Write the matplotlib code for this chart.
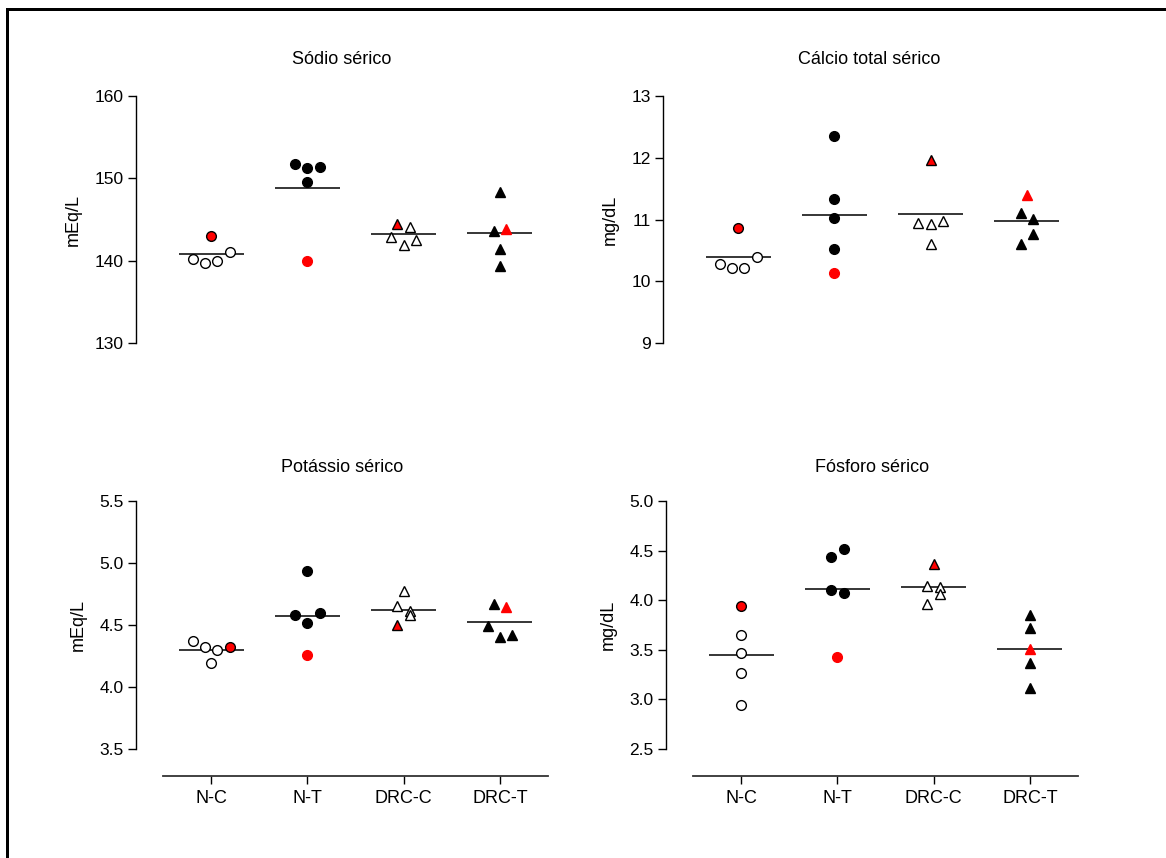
import numpy as np
import matplotlib
matplotlib.use('Agg')
import matplotlib.pyplot as plt
from matplotlib.lines import Line2D

plt.rcParams['font.family'] = ['Liberation Sans', 'DejaVu Sans']

# ---------------- data ----------------
groups = ['N-C', 'N-T', 'DRC-C', 'DRC-T']

sodio_nc = [140.2, 139.7, 140.0, 141.0, 143.0]
sodio_nt = [151.8, 151.2, 151.4, 149.5, 140.0]
sodio_drcc = [142.9, 141.9, 142.5, 144.5, 144.1]
sodio_drct = [148.3, 143.65, 143.9, 141.4, 139.3]
sodio_red = [4, 4, 3, 2]

calcio_nc = [10.28, 10.21, 10.22, 10.40, 10.86]
calcio_nt = [12.36, 11.34, 11.03, 10.53, 10.13]
calcio_drcc = [10.95, 10.93, 10.97, 10.61, 11.96]
calcio_drct = [11.11, 11.01, 10.61, 10.76, 11.39]
calcio_red = [4, 4, 4, 4]

potassio_nc = [4.374, 4.323, 4.296, 4.323, 4.196]
potassio_nt = [4.578, 4.513, 4.597, 4.935, 4.255]
potassio_drcc = [4.774, 4.656, 4.616, 4.497, 4.578]
potassio_drct = [4.672, 4.645, 4.49, 4.40, 4.419]
potassio_red = [3, 4, 3, 1]

fosforo_nc = [3.938, 3.646, 3.464, 3.263, 2.947]
fosforo_nt = [4.439, 4.516, 4.099, 4.073, 3.424]
fosforo_drcc = [4.146, 4.130, 3.962, 4.059, 4.365]
fosforo_drct = [3.851, 3.720, 3.511, 3.370, 3.112]
fosforo_red = [0, 4, 4, 2]

titles = ['Sódio sérico', 'Cálcio total sérico', 'Potássio sérico', 'Fósforo sérico']
ylabels = ['mEq/L', 'mg/dL', 'mEq/L', 'mg/dL']
yticks_list = [[130, 140, 150, 160], [9, 10, 11, 12, 13],
               [3.5, 4.0, 4.5, 5.0, 5.5], [2.5, 3.0, 3.5, 4.0, 4.5, 5.0]]
ytick_fmt = ['{:.0f}', '{:.0f}', '{:.1f}', '{:.1f}']

panels = [
    [sodio_nc, sodio_nt, sodio_drcc, sodio_drct],
    [calcio_nc, calcio_nt, calcio_drcc, calcio_drct],
    [potassio_nc, potassio_nt, potassio_drcc, potassio_drct],
    [fosforo_nc, fosforo_nt, fosforo_drcc, fosforo_drct],
]
reds = [sodio_red, calcio_red, potassio_red, fosforo_red]

# ---------------- layout ----------------
W, H = 1166, 858
DPI = 100
fig = plt.figure(figsize=(W / DPI, H / DPI), dpi=DPI)
fig.patch.set_facecolor('white')

# axes boxes in pixels: (left, top, right, bottom) of data area
boxes = [(163, 96, 548, 343), (690, 96, 1075, 343),
         (163, 501, 548, 749), (693, 501, 1078, 749)]
OFFSET_PX = 27
PT = 72.0 / DPI

markers = ['o', 'o', '^', '^']
filled = [False, True, False, True]

def swarm_offsets(values, px_per_y, px_per_x, thr_px=12.0, step_px=12.3):
    vals = np.asarray(values, dtype=float)
    order = np.argsort(vals, kind='stable')
    rows = []
    cur = [order[0]]
    start = vals[order[0]]
    for idx in order[1:]:
        if (vals[idx] - start) * px_per_y < thr_px:
            cur.append(idx)
        else:
            rows.append(cur)
            cur = [idx]
            start = vals[idx]
    rows.append(cur)
    offs = np.zeros(len(vals))
    for row in rows:
        row = sorted(row)
        n = len(row)
        for k, idx in enumerate(row):
            offs[idx] = (k - (n - 1) / 2.0) * step_px / px_per_x
    return offs

for p in range(4):
    l, t, r, b = boxes[p]
    ax = fig.add_axes([l / W, 1 - b / H, (r - l) / W, (b - t) / H])
    yt = yticks_list[p]
    ax.set_xlim(-0.5, 3.5)
    ax.set_ylim(yt[0], yt[-1])
    px_per_y = (b - t) / (yt[-1] - yt[0])
    px_per_x = (r - l) / 4.0

    for g in range(4):
        vals = panels[p][g]
        offs = swarm_offsets(vals, px_per_y, px_per_x)
        ms = 7.0 if markers[g] == 'o' else 7.3
        for i, v in enumerate(vals):
            if i == reds[p][g]:
                fc = 'red'
                ec = 'black' if not filled[g] else 'red'
            else:
                fc = 'black' if filled[g] else 'white'
                ec = 'black'
            ax.plot(g + offs[i], v, marker=markers[g], ms=ms, mfc=fc, mec=ec,
                    mew=1.0, ls='none', zorder=3)
        m = np.mean(vals)
        ax.hlines(m, g - 0.338, g + 0.338, color='black', lw=1.1, zorder=2)

    for s in ['top', 'right']:
        ax.spines[s].set_visible(False)
    ax.spines['left'].set_position(('outward', OFFSET_PX * PT))
    ax.spines['left'].set_linewidth(1.0)
    ax.set_yticks(yt)
    ax.set_yticklabels([ytick_fmt[p].format(v) for v in yt])
    ax.tick_params(axis='y', direction='out', length=8 * PT, width=1.0,
                   labelsize=12.5, pad=3)
    ax.set_ylabel(ylabels[p], fontsize=13, labelpad=9)
    if p < 2:
        ax.spines['bottom'].set_visible(False)
        ax.set_xticks([])
    else:
        ax.spines['bottom'].set_position(('outward', OFFSET_PX * PT))
        ax.spines['bottom'].set_linewidth(1.3)
        ax.spines['bottom'].set_color('#333333')
        ax.set_xticks(range(4))
        ax.set_xticklabels(groups)
        ax.tick_params(axis='x', direction='out', length=8 * PT, width=1.0,
                       labelsize=13, pad=4)
    ax.patch.set_alpha(0)

    # title centred over spine..right span
    xc = ((l - OFFSET_PX) + r) / 2.0
    yc = t - 36 if p < 2 else t - 34
    fig.text(xc / W, 1 - yc / H, titles[p], ha='center', va='center', fontsize=13)

# outer frame (open at right and bottom, as in the reference)
fig.add_artist(Line2D([6.5 / W, 6.5 / W], [0, 1 - 8.7 / H], color='black',
                      lw=3 * PT, solid_capstyle='projecting', transform=fig.transFigure))
fig.add_artist(Line2D([6.5 / W, 1.0], [1 - 8.7 / H, 1 - 8.7 / H], color='black',
                      lw=3 * PT, solid_capstyle='projecting', transform=fig.transFigure))

fig.savefig('out.png', dpi=DPI, facecolor='white')
